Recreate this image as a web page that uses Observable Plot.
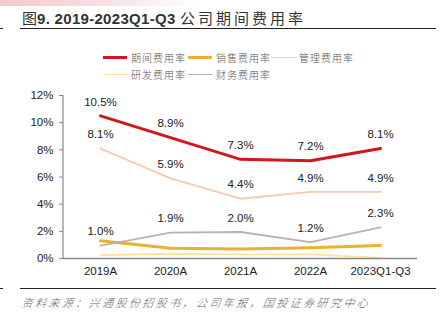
<!DOCTYPE html>
<html><head><meta charset="utf-8">
<script src="https://cdn.jsdelivr.net/npm/d3@7"></script>
<script src="https://cdn.jsdelivr.net/npm/@observablehq/plot@0.6"></script>
<style>
body{margin:0;background:#fff;width:440px;height:326px;position:relative;overflow:hidden;font-family:"Liberation Sans",Arial,sans-serif;}
#band{position:absolute;left:0;top:0;width:200px;height:6px;background:linear-gradient(90deg,#f3c9cc 0%,#f7dfe1 50%,rgba(255,255,255,0) 100%);}
#title{position:absolute;left:22px;top:7px;font-size:15px;color:#333;white-space:nowrap;}
#title em{font-style:normal;font-family:"Noto Sans CJK SC";font-weight:normal;}
#title b{font-family:"Liberation Sans",Arial,sans-serif;font-weight:bold;letter-spacing:0.3px;}
#title span{font-family:"Noto Sans CJK SC";font-weight:normal;letter-spacing:3px;}
.rule{position:absolute;left:20px;width:416px;height:1px;background:#222;}
.tick{position:absolute;left:0;width:3px;height:1px;background:#222;}
.leg{position:absolute;font-family:"Noto Sans CJK SC";font-weight:300;font-size:10px;color:#555;white-space:nowrap;display:flex;align-items:center;letter-spacing:1px;}
.leg i{display:inline-block;width:24px;margin-right:4px;}
#src{position:absolute;left:22px;top:294px;font-family:"Noto Sans CJK SC";font-weight:300;font-style:italic;font-size:11px;color:#666;letter-spacing:2.4px;white-space:nowrap;transform:skewX(-8deg);}
#chart{position:absolute;left:0;top:85px;}
</style></head><body>
<div id="band"></div>
<div id="title"><em>图</em><b>9. 2019-2023Q1-Q3 </b><span>公司期间费用率</span></div>
<div class="rule" style="top:28px"></div>
<div class="tick" style="top:28px"></div>
<div id="legend"></div>
<div id="chart"></div>
<div class="rule" style="top:288px"></div>
<div class="tick" style="top:288px"></div>
<div id="src">资料来源：兴通股份招股书，公司年报，国投证券研究中心</div>
<script>
const categories = ["2019A","2020A","2021A","2022A","2023Q1-Q3"];
const seriesNames = ["期间费用率","销售费用率","管理费用率","研发费用率","财务费用率"];
const qijian = [10.5, 8.9, 7.3, 7.2, 8.1];
const xiaoshou = [1.3, 0.75, 0.7, 0.8, 0.95];
const guanli = [8.1, 5.9, 4.4, 4.9, 4.9];
const yanfa = [0.25, 0.35, 0.3, 0.3, 0.05];
const caiwu = [0.95, 1.9, 1.95, 1.2, 2.3];
const caiwuLabels = ["1.0%","1.9%","2.0%","1.2%","2.3%"];
const yTicks = [0,2,4,6,8,10,12];

const colors = ["#d2161e","#e9b22e","#f8c9ab","#fde49c","#bdb0b0"];
const widths = [3,3,1.8,1.8,1.8];
const valuesList = [qijian,xiaoshou,guanli,yanfa,caiwu];
const data = [];
seriesNames.forEach((s,i)=>categories.forEach((c,j)=>data.push({series:s,cat:c,v:valuesList[i][j]})));

const legend = document.getElementById("legend");
const legPos = [[103,50],[188,50],[271,50],[103,67],[188,67]];
seriesNames.forEach((s,i)=>{
  const d=document.createElement("div");d.className="leg";
  d.style.left=legPos[i][0]+"px";d.style.top=legPos[i][1]+"px";
  d.innerHTML=`<i style="height:${widths[i]}px;background:${colors[i]}"></i>${s}`;
  legend.appendChild(d);
});

const drawOrder = [3,1,4,2,0];
const marks = [];
drawOrder.forEach(i=>{
  marks.push(Plot.line(data.filter(d=>d.series===seriesNames[i]),{x:"cat",y:"v",stroke:colors[i],strokeWidth:widths[i]}));
});
const lab = (arr, fmt) => Plot.text(categories.map((c,j)=>({cat:c,v:arr[j],t:fmt?fmt[j]:arr[j].toFixed(1)+"%"})),{x:"cat",y:"v",text:"t",dy:-14,fontSize:11.5,fill:"#222"});
marks.push(lab(qijian), lab(guanli), lab(caiwu, caiwuLabels));
marks.push(Plot.ruleY([0],{stroke:"#888",strokeWidth:1.5}));

const chart = Plot.plot({
  width:440, height:197,
  marginLeft:63, marginRight:23, marginTop:10, marginBottom:24,
  style:{fontFamily:"Liberation Sans, Arial, sans-serif",fontSize:"11.5px",color:"#222",background:"transparent"},
  x:{type:"point",domain:categories,padding:0.5,label:null},
  y:{domain:[0,12],label:null},
  marks:[
    Plot.axisY({ticks:yTicks,tickFormat:d=>d+"%",tickSize:4,tickPadding:6,stroke:"#888",label:null}),
    Plot.axisX({tickSize:0,tickPadding:8,label:null}),
    ...marks
  ]
});
document.getElementById("chart").appendChild(chart);
const svg = d3.select(chart);
svg.append("line").attr("x1",63).attr("x2",63).attr("y1",10).attr("y2",173).attr("stroke","#888").attr("stroke-width",1.2);
svg.selectAll("text").attr("font-family","Liberation Sans, Arial, sans-serif");
</script>
</body></html>
